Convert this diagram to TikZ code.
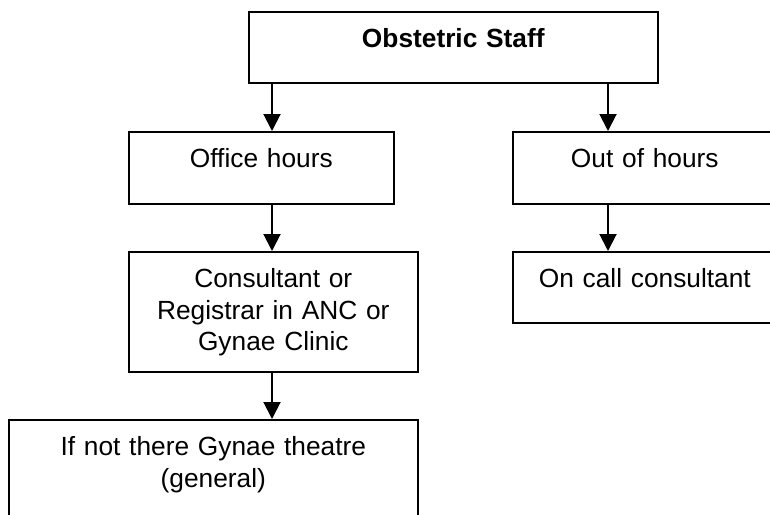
\documentclass[tikz,border=0pt]{standalone}
\usepackage{fontspec}
\setmainfont{Liberation Sans}
\usetikzlibrary{arrows.meta}

\tikzset{
  box/.style={draw, line width=1.6pt, inner sep=0pt, anchor=north west,
    align=center, text height=36pt,
    font=\fontsize{26.3}{31.5}\selectfont},
  arr/.style={line width=2pt, -{Triangle[length=17pt,width=17pt]}}
}

\begin{document}
\begin{tikzpicture}[x=1pt,y=-1pt]

    \useasboundingbox[fill=white] (0,0) rectangle (770,514);
    \clip (0,0) rectangle (770,514);

    % Boxes
    \node[box, text width=409pt, text depth=35pt, font=\fontsize{26.3}{31.5}\selectfont\bfseries]
      (top) at (248,11) {Obstetric Staff};
    \node[box, text width=265pt, text depth=36pt] (office) at (128,131) {Office hours};
    \node[box, text width=264pt, text depth=36pt] (outhrs) at (512,131) {Out of hours};
    \node[box, text width=289pt, text depth=84pt] (consult) at (128,251)
      {Consultant or\\ Registrar in ANC or\\ Gynae Clinic};
    \node[box, text width=264pt, text depth=35pt] (oncall) at (512,251) {On call consultant};
    \node[box, text width=409pt, text depth=90pt] (theatre) at (8,419)
      {If not there Gynae theatre\\ (general)};

    % Arrows
    \coordinate (lcol) at (272,0);
    \coordinate (rcol) at (608,0);
    \foreach \a/\b/\c in {top/office/lcol, office/consult/lcol, consult/theatre/lcol,
                          top/outhrs/rcol, outhrs/oncall/rcol}
    \draw[arr] (\a.south -| \c) -- (\b.north -| \c);

\end{tikzpicture}
\end{document}
